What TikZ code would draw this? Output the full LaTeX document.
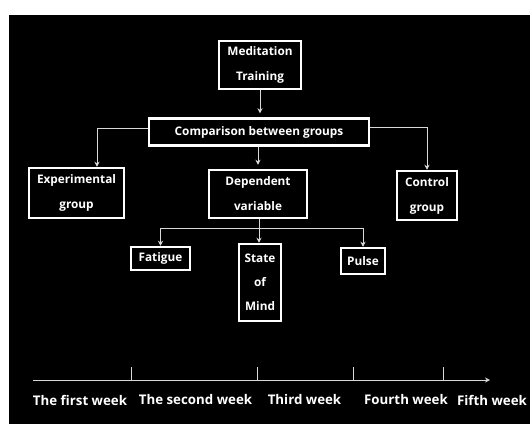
\documentclass[tikz,border=0pt]{standalone}
\usepackage{fontspec}
\setmainfont{Open Sans}
\usetikzlibrary{arrows.meta}
\begin{document}
\begin{tikzpicture}[x=1pt,y=-1pt,
 box/.style={draw=white,line width=2.5pt,text=white,font=\bfseries\fontsize{11.8}{25}\selectfont,align=center,inner sep=0pt},
 conn/.style={draw=white!85!black,line width=0.9pt,-{Stealth[length=5pt,width=5pt]}},
 plain/.style={draw=white!85!black,line width=0.9pt},
 lbl/.style={text=white,font=\bfseries\fontsize{13.3}{15}\selectfont,inner sep=0pt}]
\useasboundingbox (0,0) rectangle (530,424);
\fill[white] (0,0) rectangle (530,424);
\fill[black] (9,15) rectangle (530,424);
% boxes
\node[box,minimum width=82,minimum height=48] (med) at (260,65) {Meditation\\Training};
\node[box,minimum width=220,minimum height=27] (comp) at (259,132) {Comparison between groups};
\node[box,minimum width=95,minimum height=50] (exp) at (76.5,193) {Experimental\\group};
\node[box,minimum width=98,minimum height=48] (dep) at (258,194) {Dependent\\variable};
\node[box,minimum width=60,minimum height=49] (ctl) at (427,195.5) {Control\\group};
\node[box,minimum width=59,minimum height=23] (fat) at (160.5,258.5) {Fatigue};
\node[box,minimum width=42,minimum height=77,font=\bfseries\fontsize{11.8}{24}\selectfont] (som) at (260,282.5) {State\\of\\Mind};
\node[box,minimum width=44,minimum height=26] (pul) at (363,261) {Pulse};
% connectors
\draw[conn,shorten >=4pt] (med.south) -- (med.south |- comp.north);
\draw[conn] ([yshift=4]comp.west) -| ([xshift=20.5]exp.north);
\draw[conn] ([yshift=5]comp.east) -| (ctl.north);
\draw[conn,shorten >=4pt] (comp.south -| dep.north) -- (dep.north);
\coordinate (split) at (259,228);
\draw[plain] (dep.south -| split) -- (split);
\draw[plain] (fat.north |- split) -- (pul.north |- split);
\draw[conn] (split) -- (split |- som.north);
\draw[conn] (fat.north |- split) -- (fat.north);
\draw[conn] (pul.north |- split) -- (pul.north);
% timeline
\coordinate (t0) at (33,380);
\coordinate (t5) at (490,380);
\draw[conn] (t0) -- (t5);
\foreach \x in {131,257,353,443} \draw[plain] (\x,367) -- (\x,380);
\node[lbl] (w1) at (80,400) {The first week};
\node[lbl] (w2) at (195.5,400) {The second week};
\node[lbl] (w3) at (304.5,400) {Third week};
\node[lbl] (w4) at (406,400) {Fourth week};
\node[lbl] (w5) at (492,400) {Fifth week};
\end{tikzpicture}
\end{document}
